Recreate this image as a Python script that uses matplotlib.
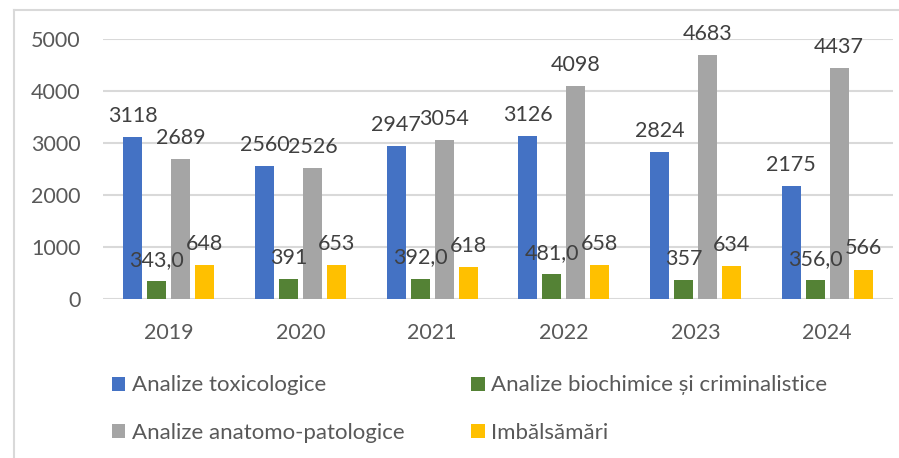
import matplotlib.pyplot as plt
import numpy as np
from matplotlib.lines import Line2D

plt.rcParams['font.family'] = ['Lato', 'DejaVu Sans']

years = ["2019", "2020", "2021", "2022", "2023", "2024"]
toxicologice = [3118, 2560, 2947, 3126, 2824, 2175]
biochimice = [343, 391, 392, 481, 357, 356]
anatomo = [2689, 2526, 3054, 4098, 4683, 4437]
imbalsamari = [648, 653, 618, 658, 634, 566]
# decimals shown on the green labels
biochimice_dec = [1, 0, 1, 1, 0, 1]

series = [
    ("Analize toxicologice", toxicologice, "#4472C4"),
    ("Analize biochimice și criminalistice", biochimice, "#548235"),
    ("Analize anatomo-patologice", anatomo, "#A5A5A5"),
    ("Imbălsămări", imbalsamari, "#FFC000"),
]

fig = plt.figure(figsize=(8.99, 4.58), dpi=100)
ax = fig.add_axes([103 / 899, 159 / 458, 790 / 899, 260 / 458])

x = np.arange(len(years))
step = 0.182
width = 0.145
txt_col = "#404040"
fs = 15.5

handles = []
for i, (name, vals, col) in enumerate(series):
    pos = x + (i - 1.5) * step
    bars = ax.bar(pos, vals, width, color=col, label=name, zorder=3)
    handles.append(bars)
    for j, (b, v) in enumerate(zip(bars, vals)):
        if vals is biochimice:
            s = f"{v:.{biochimice_dec[j]}f}".replace(".", ",")
        else:
            s = str(v)
        ax.annotate(s, (b.get_x() + b.get_width() / 2, v), xytext=(0, 8),
                    textcoords="offset points", ha="center", va="bottom",
                    fontsize=fs, color=txt_col, zorder=4)

ax.set_xlim(-0.5, len(years) - 0.5)
ax.set_ylim(0, 5000)
ax.set_yticks(range(0, 5001, 1000))
ax.set_xticks(x)
ax.set_xticklabels(years)
ax.tick_params(axis="both", length=0, labelsize=fs, labelcolor="#595959")
ax.tick_params(axis="y", pad=16)
ax.tick_params(axis="x", pad=17)
ax.grid(axis="y", color="#D9D9D9", linewidth=1.5, zorder=0)
for sp in ax.spines.values():
    sp.set_visible(False)

# legend fills column by column, so reorder to get rows: tox/bio, anatomo/imb
order = [0, 2, 1, 3]
ax.legend([handles[k] for k in order], [series[k][0] for k in order],
          loc="upper left", bbox_to_anchor=(0.0, -0.26), ncol=2,
          frameon=False, fontsize=16, labelcolor="#595959",
          handlelength=0.6, handleheight=0.6, handletextpad=0.3,
          columnspacing=3.0, labelspacing=1.25, borderaxespad=0)

# outer chart frame
fig.add_artist(Line2D([14 / 899, 14 / 899], [0, 448 / 458], color="#D9D9D9", lw=1.5))
fig.add_artist(Line2D([14 / 899, 1], [448 / 458, 448 / 458], color="#D9D9D9", lw=1.5))

fig.savefig("out.png", dpi=100)
